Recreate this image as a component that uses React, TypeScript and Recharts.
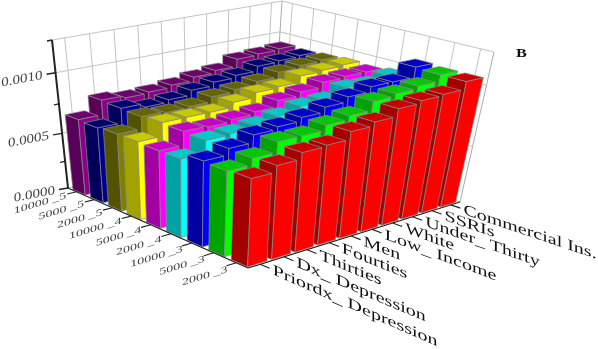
import React from "react";
import { ScatterChart, Scatter, XAxis, YAxis } from "recharts";

const W = 598;
const H = 349;

const categories = ["Priordx_ Depression", "Dx_ Depression", "Thirties", "Fourties", "Men", "Low_ Income", "White", "Under_ Thirty", "SSRIs", "Commercial Ins."];
const rowsLabels = ["10000 _5", "5000 _5", "2000 _5", "10000 _4", "5000 _4", "2000 _4", "10000 _3", "5000 _3", "2000 _3"];
const rowColors = ["#8b008b", "#000090", "#808000", "#ffff00", "#ff00ff", "#00ffff", "#0000ff", "#00ff00", "#ff0000"];

const purple = [0.00067, 0.00079, 0.00077, 0.00078, 0.0008, 0.00083, 0.00085, 0.00091, 0.00092, 0.00093];
const navy = [0.00066, 0.00078, 0.00075, 0.00077, 0.00081, 0.00084, 0.00086, 0.0009, 0.00091, 0.00092];
const olive = [0.00067, 0.00077, 0.00076, 0.00077, 0.00081, 0.00083, 0.00086, 0.0009, 0.00092, 0.00093];
const yellow = [0.00067, 0.00078, 0.00078, 0.00078, 0.00082, 0.00086, 0.00087, 0.00092, 0.00093, 0.00094];
const magenta = [0.00066, 0.00077, 0.00076, 0.00078, 0.0008, 0.00085, 0.00088, 0.00092, 0.00093, 0.00093];
const cyan = [0.00066, 0.00076, 0.00077, 0.00079, 0.00082, 0.00086, 0.00087, 0.00093, 0.00092, 0.00095];
const blue = [0.00071, 0.00076, 0.00082, 0.00084, 0.00087, 0.00091, 0.00095, 0.00099, 0.00099, 0.00107];
const green = [0.0007, 0.00075, 0.00083, 0.00083, 0.00087, 0.0009, 0.00097, 0.00099, 0.00101, 0.00106];
const red = [0.00071, 0.00076, 0.00081, 0.00082, 0.00088, 0.00091, 0.00097, 0.00099, 0.001, 0.00106];
const series = [purple, navy, olive, yellow, magenta, cyan, blue, green, red];

const zMax = 0.00125;
const zTicks = [0, 0.0005, 0.001];
const zMinor = [0.00025, 0.00075, 0.00125];

type P = [number, number];
function homography(p0: P, p1: P, p2: P, p3: P) {
  const dx1 = p1[0] - p2[0], dx2 = p3[0] - p2[0], sx = p0[0] - p1[0] + p2[0] - p3[0];
  const dy1 = p1[1] - p2[1], dy2 = p3[1] - p2[1], sy = p0[1] - p1[1] + p2[1] - p3[1];
  const den = dx1 * dy2 - dx2 * dy1;
  const g = (sx * dy2 - dx2 * sy) / den, h = (dx1 * sy - sx * dy1) / den;
  const a = p1[0] - p0[0] + g * p1[0], b = p3[0] - p0[0] + h * p3[0], c = p0[0];
  const d = p1[1] - p0[1] + g * p1[1], e = p3[1] - p0[1] + h * p3[1], f = p0[1];
  return (u: number, v: number): P => {
    const q = g * u + h * v + 1;
    return [(a * u + b * v + c) / q, (d * u + e * v + f) / q];
  };
}
// u: along the categories (0..10), v: along the rows (0..9)
const floorH = homography([68, 188], [273, 140], [460, 202], [248, 268]);
const topH = homography([52, 40], [282, 1], [494, 52], [255, 103]);
const persp = (w: number) => (0.88 * w) / (1 - 0.12 * w);
function proj(u: number, v: number, val: number): P {
  const a = floorH(u / 10, v / 9), b = topH(u / 10, v / 9);
  const t = persp(val / zMax);
  return [a[0] + (b[0] - a[0]) * t, a[1] + (b[1] - a[1]) * t];
}
const pts = (l: P[]) => l.map((p) => p[0].toFixed(1) + "," + p[1].toFixed(1)).join(" ");
function shade(hex: string, k: number) {
  const n = parseInt(hex.slice(1), 16);
  const c = (s: number) => Math.round(((n >> s) & 255) * k);
  return `rgb(${c(16)},${c(8)},${c(0)})`;
}

const U0 = 0.05, U1 = 0.85, V0 = 0.22, V1 = 0.93;

function Bar3D(props: any) {
  const { c, r, value, color } = props.payload ?? props;
  if (c === undefined) return null;
  const u0 = c + U0, u1 = c + U1, v0 = r + V0, v1 = r + V1;
  const b = (u: number, v: number) => proj(u, v, 0);
  const t = (u: number, v: number) => proj(u, v, value);
  const edge = { stroke: "#8a8a8a", strokeWidth: 0.7, strokeLinejoin: "round" as const };
  return (
    <g>
      <polygon points={pts([b(u0, v0), b(u0, v1), t(u0, v1), t(u0, v0)])} fill={shade(color, 0.64)} {...edge} />
      <polygon points={pts([b(u0, v1), b(u1, v1), t(u1, v1), t(u0, v1)])} fill={color} {...edge} />
      <polygon points={pts([t(u0, v0), t(u1, v0), t(u1, v1), t(u0, v1)])} fill={shade(color, 0.79)} {...edge} />
    </g>
  );
}

function Frame() {
  const grid = "#c4c4c4";
  const lines: React.ReactNode[] = [];
  const ln = (a: P, b: P, stroke: string, sw: number, key: string) => (
    <line key={key} x1={a[0]} y1={a[1]} x2={b[0]} y2={b[1]} stroke={stroke} strokeWidth={sw} />
  );
  categories.forEach((_, c) => {
    lines.push(ln(proj(c + 0.5, 0, 0), proj(c + 0.5, 0, zMax), grid, 1, "cv" + c));
  });
  rowsLabels.forEach((_, r) => {
    lines.push(ln(proj(10, r + 0.5, 0), proj(10, r + 0.5, zMax), grid, 1, "rv" + r));
  });
  [...zTicks, zMax].forEach((z, i) => {
    lines.push(ln(proj(0, 0, z), proj(10, 0, z), grid, 1, "zl" + i));
    lines.push(ln(proj(10, 0, z), proj(10, 9, z), grid, 1, "zr" + i));
  });
  lines.push(ln(proj(10, 0, 0), proj(10, 0, zMax), "#aaaaaa", 1, "backedge"));
  lines.push(ln(proj(10, 9, 0), proj(10, 9, zMax), "#aaaaaa", 1, "rightedge"));
  return <g>{lines}</g>;
}

function Axes() {
  const axis = "#222";
  const out: React.ReactNode[] = [];
  const ln = (a: P, b: P, sw: number, key: string) => (
    <line key={key} x1={a[0]} y1={a[1]} x2={b[0]} y2={b[1]} stroke={axis} strokeWidth={sw} />
  );
  out.push(ln(proj(0, 0, 0), proj(0, 0, zMax), 2, "zaxis"));
  out.push(ln(proj(0, 0, 0), proj(0, 9, 0), 1.2, "raxis"));
  out.push(ln(proj(0, 9, 0), proj(10, 9, 0), 1.2, "caxis"));

  zTicks.forEach((z, i) => {
    const p = proj(0, 0, z);
    out.push(ln(p, [p[0] - 9, p[1] + 1.5], 1.3, "zt" + i));
    const fx = 15 / 13;
    const slope = -0.19;
    out.push(
      <text key={"zl" + i} transform={`matrix(${fx},${fx * slope},0,1,${p[0] - 13},${p[1] + 6})`} textAnchor="end" fontFamily="Liberation Serif" fontSize={13} fill="#444">
        {z.toFixed(4)}
      </text>
    );
  });
  zMinor.forEach((z, i) => {
    const p = proj(0, 0, z);
    out.push(ln(p, [p[0] - 5, p[1] + 1], 1.3, "zm" + i));
  });
  rowsLabels.forEach((label, r) => {
    const p = proj(0, r + 0.5, 0);
    const q = proj(-0.4, r + 0.5, 0);
    out.push(ln(p, q, 1.1, "rt" + r));
    const fx = 14 / 9.5;
    const slope = -0.3;
    out.push(
      <text key={"rl" + r} transform={`matrix(${fx},${fx * slope},0,1,${q[0] - 1 + r * 0.25},${q[1] + 4 + r * 0.25})`} textAnchor="end" fontFamily="Liberation Serif" fontSize={9.5} fill="#444">
        {label}
      </text>
    );
  });
  categories.forEach((label, c) => {
    const p = proj(c + 0.5, 9, 0);
    const q = proj(c + 0.5, 9.4, 0);
    const a = proj(c + 0.5, 9, 0), b = proj(c + 0.5, 13, 0);
    out.push(ln(p, q, 1.1, "ct" + c));
    const slope = (b[1] - a[1]) / (b[0] - a[0]);
    const fx = 20 / 14;
    out.push(
      <text key={"cl" + c} transform={`matrix(${fx},${fx * slope},0,1.08,${q[0] + 3},${q[1] + 6})`} fontFamily="Liberation Serif" fontSize={14} fill="#111">
        {label}
      </text>
    );
  });
  out.push(
    <text key="B" transform="matrix(1.35,0,0,1,516,56.5)" fontFamily="Liberation Serif" fontWeight="bold" fontSize={12} fill="#111">
      B
    </text>
  );
  return <g>{out}</g>;
}

const rowData = series.map((vals, r) =>
  vals
    .map((value, c) => {
      const p = proj(c + 0.5, r + 0.5, 0);
      return { px: p[0], py: p[1], c, r, value, color: rowColors[r] };
    })
    .reverse()
);
const oneFrame = [{ px: 0, py: 0 }];

export default function App() {
  return (
    <div style={{ position: "absolute", left: 0, top: 0, width: W, height: H, background: "#fff", filter: "blur(0.5px)" }}>
      <ScatterChart width={W} height={H} margin={{ top: 0, right: 0, bottom: 0, left: 0 }}>
        <XAxis type="number" dataKey="px" domain={[0, W]} hide allowDataOverflow />
        <YAxis type="number" dataKey="py" domain={[0, H]} reversed hide allowDataOverflow />
        <Scatter data={oneFrame} isAnimationActive={false} shape={() => <Frame />} />
        {rowData.map((d, r) => (
          <Scatter key={r} name={rowsLabels[r]} data={d} isAnimationActive={false} shape={(p: any) => <Bar3D {...p} />} />
        ))}
        <Scatter data={oneFrame} isAnimationActive={false} shape={() => <Axes />} />
      </ScatterChart>
    </div>
  );
}
